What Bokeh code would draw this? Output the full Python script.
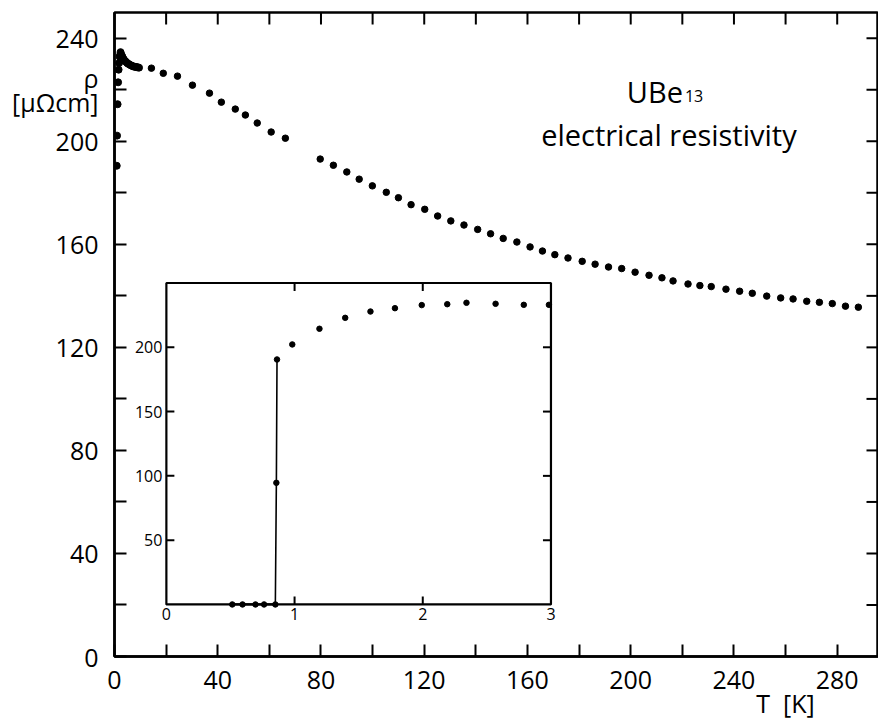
import numpy as np
from bokeh.plotting import figure
from bokeh.models import Range1d, FixedTicker, LinearAxis, Label, AllLabels
from bokeh.embed import file_html
from bokeh.resources import INLINE
from bokeh.core.properties import value

FONT = "Open Sans"

# ---------------- data ----------------
# low-temperature data (inset), T in K, rho in micro-ohm cm
T_low = [0.514, 0.594, 0.695, 0.762, 0.850, 0.858, 0.863, 0.982, 1.194, 1.395,
         1.592, 1.783, 1.992, 2.191, 2.341, 2.568, 2.788, 2.984]
rho_low = [0, 0, 0, 0, 0, 94.6, 190.5, 202.2, 214.4, 222.9,
           227.8, 230.4, 232.8, 233.5, 234.6, 233.8, 233.0, 233.0]

# dense points between 3 and 10 K (main panel)
T_mid = [3.5, 4.0, 4.5, 5.0, 5.5, 6.0, 6.5, 7.0, 7.5, 8.0, 8.5, 9.0, 9.5]
rho_mid = [232.0, 231.3, 230.8, 230.3, 230.0, 229.7, 229.4, 229.2, 229.0,
           228.9, 228.8, 228.7, 228.6]

# higher temperatures (main panel)
T_high = [14.3, 18.9, 24.4, 30.2, 36.8, 41.4, 46.8, 50.7, 55.3, 60.7, 66.2,
          79.7, 84.8, 90.0, 94.8, 99.9, 105.3, 110.0, 114.9, 120.2, 125.2, 130.3,
          135.4, 140.7, 145.7, 150.6, 155.9, 161.0, 165.8, 170.6, 175.7, 181.2,
          186.2, 191.4, 196.5, 201.7, 207.1, 212.1, 216.4, 222.2, 226.8, 231.2,
          236.9, 242.2, 247.1, 252.7, 258.1, 262.9, 268.2, 273.1, 278.1, 283.2, 288.2]
rho_high = [228.4, 226.4, 225.3, 221.8, 218.7, 215.2, 212.5, 210.2, 207.1, 203.6, 201.2,
            193.1, 190.7, 188.1, 185.3, 182.7, 180.2, 178.1, 175.4, 173.6, 171.0, 169.1,
            167.5, 165.8, 164.1, 162.3, 160.9, 159.0, 157.4, 156.0, 154.7, 153.4,
            152.3, 151.2, 150.6, 149.2, 148.0, 147.0, 145.8, 144.6, 144.0, 143.6,
            142.6, 141.8, 141.0, 139.9, 139.2, 138.8, 137.9, 137.5, 137.0, 136.0, 135.6]

# main axes ticks
x_ticks = [0, 40, 80, 120, 160, 200, 240, 280]
x_minor = [20, 60, 100, 140, 180, 220, 260]
y_ticks = [0, 40, 80, 120, 160, 200, 240]
y_minor = [20, 60, 100, 140, 180, 220]

# axis titles (placed in the tick-label column at these tick positions)
x_title = "T\u00a0\u00a0[K]"
x_title_at = 260
y_title = "ρ\n[μΩcm]"
y_title_at = 220

# inset ticks
ix_ticks = [0, 1, 2, 3]
ix_inner = [1, 2]
iy_ticks = [50, 100, 150, 200]

# ---------------- main figure ----------------
p = figure(width=878, height=722, x_range=Range1d(0, 296), y_range=Range1d(0, 250),
           output_backend="svg", toolbar_location=None,
           x_axis_type=None, y_axis_type=None,
           min_border_left=114, min_border_right=0, min_border_top=12,
           min_border_bottom=64)
p.outline_line_color = "black"
p.outline_line_width = 2.5
p.xgrid.visible = False
p.ygrid.visible = False
p.background_fill_color = "white"
p.border_fill_color = "white"


def style_axis(ax):
    ax.axis_line_width = 2.5
    ax.axis_line_color = "black"
    ax.major_tick_line_width = 2
    ax.minor_tick_line_width = 2
    ax.major_tick_line_color = "black"
    ax.minor_tick_line_color = "black"
    ax.major_tick_in = 12
    ax.major_tick_out = 0
    ax.minor_tick_in = 12
    ax.minor_tick_out = 0
    ax.major_label_text_font = FONT
    ax.major_label_text_font_size = "25px"
    ax.major_label_text_color = "black"
    ax.major_label_policy = AllLabels()


xb_major = x_ticks + [x_title_at]
xb_minor = [t for t in x_minor if t != x_title_at]
xb = LinearAxis(ticker=FixedTicker(ticks=xb_major, minor_ticks=xb_minor))
style_axis(xb)
xb.major_label_standoff = 5
xb.major_label_text_line_height = 0.72
xb.major_label_overrides = {x_title_at: "\n" + x_title}
p.add_layout(xb, "below")

yl_major = y_ticks + [y_title_at]
yl_minor = [t for t in y_minor if t != y_title_at]
yl = LinearAxis(ticker=FixedTicker(ticks=yl_major, minor_ticks=yl_minor))
style_axis(yl)
yl.major_label_standoff = 16
yl.major_label_text_line_height = 0.72
yl.major_label_text_align = "center"
yl.major_label_overrides = {y_title_at: y_title}
p.add_layout(yl, "left")

# inward ticks on the top and right edges of the frame
top_ticks = sorted([t for t in x_ticks + x_minor if t > 0])
right_ticks = sorted([t for t in y_ticks + y_minor if t > 0])
p.ray(x=top_ticks, y=[p.y_range.end] * len(top_ticks), length=12, length_units="screen",
      angle=-np.pi / 2, line_color="black", line_width=2)
p.ray(x=[p.x_range.end] * len(right_ticks), y=right_ticks, length=12, length_units="screen",
      angle=np.pi, line_color="black", line_width=2)

# main data
T_lo = np.array(T_low)
r_lo = np.array(rho_low)
normal = r_lo > 150
p.scatter(list(T_lo[normal]) + T_mid, list(r_lo[normal]) + rho_mid,
          size=7, color="black")
p.scatter(T_high, rho_high, size=6.5, color="black")

# texts inside the frame
p.add_layout(Label(x=198.5, y=219.5, text="UBe", text_font=FONT, text_font_size="29px",
                   text_align="left", text_baseline="alphabetic", text_color="black"))
p.add_layout(Label(x=221.0, y=217.4, text="13", text_font=FONT, text_font_size="16px",
                   text_align="left", text_baseline="alphabetic", text_color="black"))
p.add_layout(Label(x=214.8, y=202.8, text="electrical resistivity", text_font=FONT,
                   text_font_size="29px", text_align="center",
                   text_baseline="alphabetic", text_color="black"))

# ---------------- inset ----------------
ix_range = Range1d(0, 3)
iy_range = Range1d(0, 250)
inset = p.subplot(x_source=ix_range, y_source=iy_range,
                  x_target=Range1d(20.1, 169.1), y_target=Range1d(20.2, 145.0))

inset.quad(left=ix_range.start, right=ix_range.end, bottom=iy_range.start, top=iy_range.end,
           fill_color="white", line_color="black", line_width=2.2)

# inset ticks (inward)
inset.ray(x=[ix_range.start] * len(iy_ticks), y=iy_ticks, length=8, length_units="screen",
          angle=0, line_color="black", line_width=2)
inset.ray(x=[ix_range.end] * len(iy_ticks), y=iy_ticks, length=8, length_units="screen",
          angle=np.pi, line_color="black", line_width=2)
inset.ray(x=ix_inner, y=[iy_range.start] * len(ix_inner), length=8, length_units="screen",
          angle=np.pi / 2, line_color="black", line_width=2)
inset.ray(x=ix_inner, y=[iy_range.end] * len(ix_inner), length=8, length_units="screen",
          angle=-np.pi / 2, line_color="black", line_width=2)

# inset tick labels
inset.text(x=[ix_range.start] * len(iy_ticks), y=iy_ticks, text=[str(v) for v in iy_ticks],
           x_offset=-4, text_align="right", text_baseline="middle",
           text_font=value(FONT), text_font_size="16px", text_color="black")
inset.text(x=ix_ticks, y=[iy_range.start] * len(ix_ticks), text=[str(v) for v in ix_ticks],
           y_offset=4, text_align="center", text_baseline="top",
           text_font=value(FONT), text_font_size="16px", text_color="black")

# inset data
trans = (T_lo >= 0.84) & (T_lo <= 0.87)
inset.line(list(T_lo[trans]), list(r_lo[trans]), line_color="black", line_width=1.6)
zero = r_lo == 0
inset.line(list(T_lo[zero]), list(r_lo[zero]), line_color="black", line_width=2.2)
inset.scatter(T_low, rho_low, size=5.5, color="black")

open("out.html", "w").write(file_html(p, INLINE))
